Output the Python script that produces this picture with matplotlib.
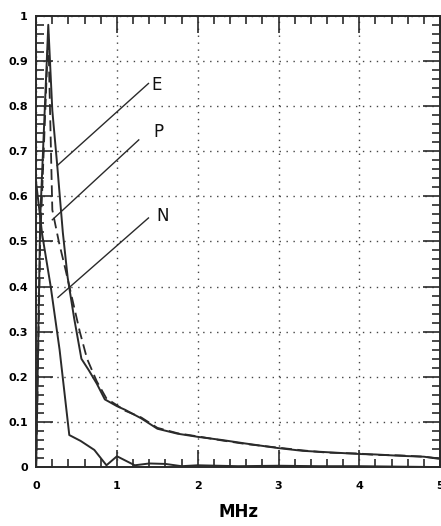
import matplotlib.pyplot as plt
import numpy as np
from matplotlib.ticker import MultipleLocator

# Data (x in MHz, normalised amplitude)
e_x = [0.0, 0.05, 0.15, 0.2, 0.26, 0.33, 0.39, 0.47, 0.56, 0.65, 0.75, 0.85,
       1.0, 1.1, 1.3, 1.5, 1.75, 2.0, 2.3, 2.6, 3.0, 3.3, 3.6, 4.0, 4.2,
       4.5, 4.8, 5.0]
e_y = [0.0, 0.55, 0.98, 0.79, 0.67, 0.52, 0.42, 0.33, 0.24, 0.215, 0.185,
       0.15, 0.135, 0.127, 0.108, 0.085, 0.074, 0.067, 0.06, 0.052, 0.042,
       0.036, 0.033, 0.029, 0.028, 0.025, 0.023, 0.018]

p_x = [0.0, 0.05, 0.15, 0.2, 0.28, 0.36, 0.45, 0.54, 0.63, 0.75, 0.87,
       1.0, 1.1, 1.3, 1.5, 1.75, 2.0, 2.3, 2.6, 3.0, 3.3, 3.6, 4.0, 4.2,
       4.5, 4.8, 5.0]
p_y = [0.0, 0.5, 0.96, 0.57, 0.5, 0.44, 0.37, 0.3, 0.24, 0.19, 0.152,
       0.137, 0.125, 0.11, 0.087, 0.075, 0.068, 0.059, 0.051, 0.043, 0.037,
       0.032, 0.03, 0.027, 0.026, 0.023, 0.019]

n_x = [0.0, 0.075, 0.18, 0.29, 0.41, 0.55, 0.72, 0.87, 1.0, 1.22, 1.4,
       1.6, 1.8, 2.0, 2.5, 3.0, 3.5, 4.0, 4.5, 5.0]
n_y = [0.63, 0.515, 0.4, 0.26, 0.071, 0.058, 0.038, 0.004, 0.024, 0.004,
       0.008, 0.007, 0.002, 0.004, 0.002, 0.003, 0.002, 0.002, 0.001, 0.0]

# label text position, leader start, leader end
labels = ['E', 'P', 'N']
text_xy = [(1.49, 0.847), (1.51, 0.743), (1.56, 0.557)]
lead_start = [(1.39, 0.85), (1.27, 0.725), (1.39, 0.552)]
lead_end = [(0.26, 0.668), (0.2, 0.548), (0.27, 0.376)]


def main():
    fig = plt.figure(figsize=(4.41, 5.26), dpi=100)
    ax = fig.add_axes([0.082, 0.112, 0.916, 0.858])
    col = '#2a2a2a'

    ax.plot(e_x, e_y, color=col, lw=1.4)
    ax.plot(p_x, p_y, color=col, lw=1.3, ls=(0, (6, 3)))
    ax.plot(n_x, n_y, color=col, lw=1.4)

    for lab, t, s, e in zip(labels, text_xy, lead_start, lead_end):
        ax.plot([s[0], e[0]], [s[1], e[1]], color=col, lw=1.0)
        ax.text(t[0], t[1], lab, fontsize=12, color='#111111',
                ha='center', va='center')

    ax.set_xlim(0, 5)
    ax.set_ylim(0, 1)
    ax.xaxis.set_major_locator(MultipleLocator(1))
    ax.xaxis.set_minor_locator(MultipleLocator(0.2))
    ax.yaxis.set_major_locator(MultipleLocator(0.1))
    ax.yaxis.set_minor_locator(MultipleLocator(0.02))
    ax.set_yticks(np.arange(0, 1.01, 0.1))
    ax.set_yticklabels(['0', '0.1', '0.2', '0.3', '0.4', '0.5', '0.6',
                        '0.7', '0.8', '0.9', '1'])
    ax.tick_params(which='both', direction='in', top=True, right=True,
                   color=col, width=1.2)
    ax.tick_params(which='major', length=12)
    ax.tick_params(which='minor', length=6)
    ax.tick_params(axis='x', which='major', pad=10)
    ax.tick_params(axis='y', which='major', pad=6)
    for lab in ax.get_xticklabels() + ax.get_yticklabels():
        lab.set_fontweight('bold')
        lab.set_fontsize(8)
    ax.grid(True, which='major', color='#444444', lw=1.0, ls=(0, (1, 4)))
    for sp in ax.spines.values():
        sp.set_color(col)
        sp.set_linewidth(1.4)

    ax.set_xlabel('MHz', fontsize=12, fontweight='bold', labelpad=9)

    plt.savefig('out.png')
    plt.close()


if __name__ == "__main__":
    main()
